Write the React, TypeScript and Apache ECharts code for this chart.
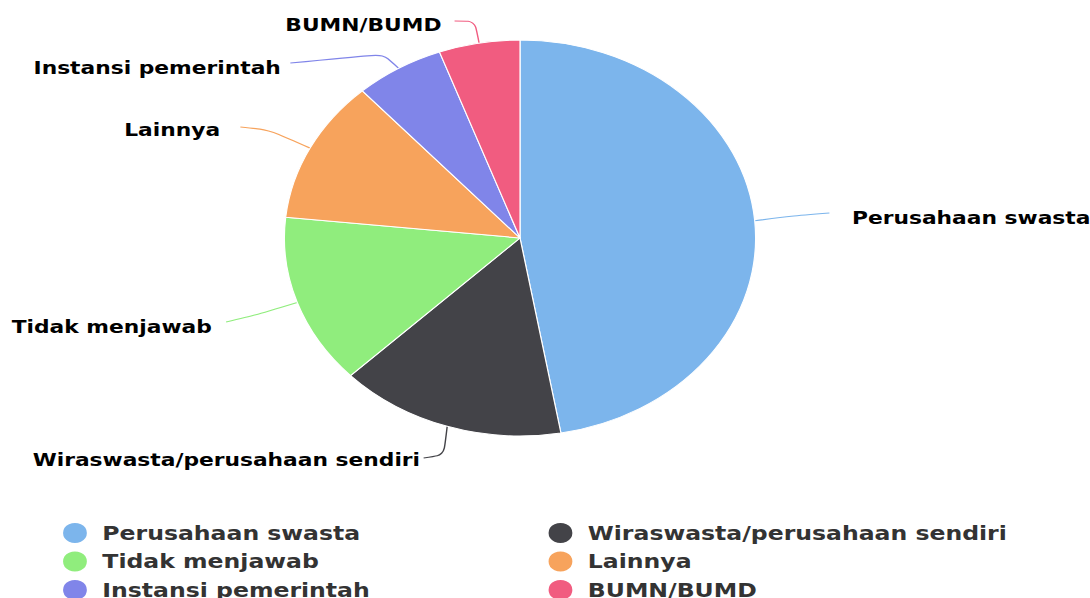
import React, { useEffect, useRef } from "react";
import * as echarts from "echarts";

const categories = [
  "Perusahaan swasta",
  "Wiraswasta/perusahaan sendiri",
  "Tidak menjawab",
  "Lainnya",
  "Instansi pemerintah",
  "BUMN/BUMD",
];
const values = [85, 28, 25, 21, 11, 10];
const colors = ["#7cb5ec", "#434348", "#90ed7d", "#f7a35c", "#8085e9", "#f15c80"];

const legendLeftCol = ["Perusahaan swasta", "Tidak menjawab", "Instansi pemerintah"];
const legendRightCol = ["Wiraswasta/perusahaan sendiri", "Lainnya", "BUMN/BUMD"];

// label placement (unscaled chart coordinates): bend point and end point of connector
const labelPlacement = [
  { x: 716, y: 218, align: "left", bend: [665, 216], end: [697, 213] },
  { x: 353, y: 460, align: "right", bend: [373, 455], end: [356, 458] },
  { x: 178, y: 327, align: "right", bend: [215, 315], end: [190, 322] },
  { x: 185, y: 130, align: "right", bend: [226, 130], end: [202, 127] },
  { x: 236, y: 68, align: "right", bend: [322, 54], end: [244, 63] },
  { x: 371, y: 25, align: "right", bend: [399, 21], end: [382, 21] },
];

const W = 916;
const H = 598;
const SX = 1090 / W;

export default function App() {
  const ref = useRef<HTMLDivElement>(null);
  useEffect(() => {
    if (!ref.current) return;
    const chart = echarts.init(ref.current, null, { renderer: "svg" });
    const legendText = {
      fontFamily: "DejaVu Sans",
      fontWeight: "bold",
      fontSize: 19.8,
      color: "#333333",
      padding: [0, 0, 0, 7],
    };
    const legendBase = {
      orient: "vertical",
      top: 516,
      icon: "circle",
      itemWidth: 22,
      itemHeight: 22,
      itemGap: 4.5,
      textStyle: legendText,
    };
    chart.setOption({
      animation: false,
      color: colors,
      legend: [
        { ...legendBase, data: legendLeftCol, left: 46 },
        { ...legendBase, data: legendRightCol, left: 454 },
      ],
      series: [
        {
          type: "pie",
          center: [437, 238],
          radius: 198,
          startAngle: 90,
          clockwise: true,
          avoidLabelOverlap: false,
          itemStyle: { borderColor: "#ffffff", borderWidth: 1 },
          label: {
            show: true,
            fontFamily: "DejaVu Sans",
            fontWeight: "bold",
            fontSize: 18.3,
            color: "#000000",
          },
          labelLine: { show: true, lineStyle: { width: 1.2 }, smooth: 0.25 },
          labelLayout: (params: any) => {
            const p = labelPlacement[params.dataIndex];
            const pts = params.labelLinePoints || [];
            const start = pts[0] || p.bend;
            return {
              x: p.x,
              y: p.y,
              align: p.align,
              verticalAlign: "middle",
              labelLinePoints: [start, p.bend, p.end],
            };
          },
          data: categories.map((name, i) => ({ name, value: values[i] })),
        },
      ],
    });
    return () => chart.dispose();
  }, []);
  return (
    <div
      style={{
        position: "absolute",
        left: 0,
        top: 0,
        width: 1090,
        height: H,
        overflow: "hidden",
        background: "#ffffff",
      }}
    >
      <div
        ref={ref}
        style={{
          width: W,
          height: 700,
          transform: `scaleX(${SX})`,
          transformOrigin: "0 0",
        }}
      />
    </div>
  );
}
